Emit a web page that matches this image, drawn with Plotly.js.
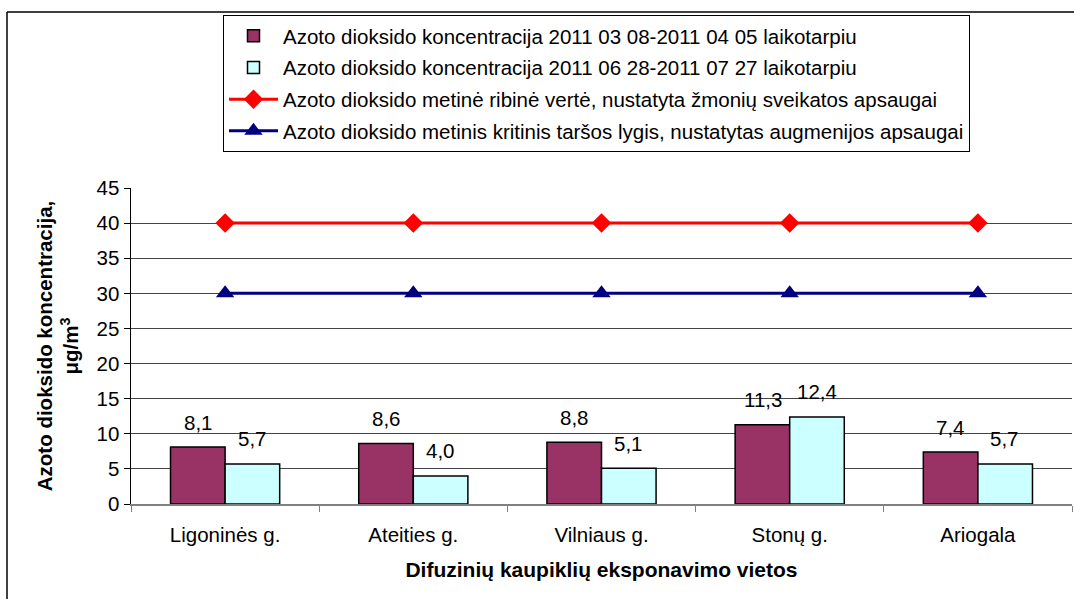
<!DOCTYPE html>
<html>
<head>
<meta charset="utf-8">
<script src="https://cdn.plot.ly/plotly-3.0.1.min.js"></script>
<style>html,body{margin:0;padding:0;background:#fff;}#chart{width:1074px;height:599px;}</style>
</head>
<body>
<div id="chart"></div>
<script>
const categories = ["Ligoninės g.", "Ateities g.", "Vilniaus g.", "Stonų g.", "Ariogala"];
const period1 = [8.1, 8.6, 8.8, 11.3, 7.4];
const period2 = [5.7, 4.0, 5.1, 12.4, 5.7];
const limitHealth = [40, 40, 40, 40, 40];
const limitVegetation = [30, 30, 30, 30, 30];
const seriesNames = [
  "Azoto dioksido koncentracija 2011 03 08-2011 04 05 laikotarpiu",
  "Azoto dioksido koncentracija 2011 06 28-2011 07 27 laikotarpiu",
  "Azoto dioksido metinė ribinė vertė, nustatyta žmonių sveikatos apsaugai",
  "Azoto dioksido metinis kritinis taršos lygis, nustatytas augmenijos apsaugai"
];
const yTickVals = [0, 5, 10, 15, 20, 25, 30, 35, 40, 45];

const FONT = "Liberation Sans, Arial, sans-serif";
const FS = 20.5;
const FT = 21;
const W = 1074, H = 599;
const M = {l: 131, r: 2, t: 188, b: 95};
const PW = W - M.l - M.r, PH = H - M.t - M.b;

const traces = [
  {type: "bar", x: categories, y: period1, name: seriesNames[0], legendgroup: "a",
   marker: {color: "#993366", line: {color: "#000", width: 1.5}}, hoverinfo: "y"},
  {type: "bar", x: categories, y: period2, name: seriesNames[1], legendgroup: "b",
   marker: {color: "#CCFFFF", line: {color: "#000", width: 1.5}}, hoverinfo: "y"},
  {type: "scatter", mode: "lines+markers", x: categories, y: limitHealth, name: seriesNames[2], legendgroup: "c",
   line: {color: "#FF0000", width: 3}, marker: {symbol: "diamond", size: 15, color: "#FF0000"}},
  {type: "scatter", mode: "lines+markers", x: categories, y: limitVegetation, name: seriesNames[3], legendgroup: "d",
   line: {color: "#000080", width: 3}, marker: {symbol: "triangle-up", size: 16, color: "#000080"}}
];

const fmt = v => v.toFixed(1).replace(".", ",");
const annotations = [];
[period1, period2].forEach((arr, s) => {
  arr.forEach((v, i) => {
    annotations.push({
      x: categories[i], y: v, xref: "x", yref: "y", text: fmt(v), showarrow: false,
      xshift: s === 0 ? -27 : 27, yshift: 25, yanchor: "middle",
      font: {family: FONT, size: FS, color: "#000"}
    });
  });
});

const layout = {
  width: W, height: H,
  margin: M,
  paper_bgcolor: "#fff", plot_bgcolor: "#fff",
  font: {family: FONT, size: FS, color: "#000"},
  barmode: "group", bargap: 0.42, bargroupgap: 0,
  showlegend: true,
  legend: {
    x: (223 - M.l) / PW, y: (H - M.b - 15) / PH, xanchor: "left", yanchor: "top",
    bordercolor: "#000", borderwidth: 1, bgcolor: "#fff",
    font: {family: FONT, size: FS, color: "#000"},
    traceorder: "grouped", tracegroupgap: 2, itemwidth: 49
  },
  xaxis: {
    type: "category", showgrid: false, showline: true, linecolor: "#808080", linewidth: 1.5,
    ticks: "outside", tickson: "boundaries", ticklen: 6, tickcolor: "#808080",
    ticklabelstandoff: 12,
    tickfont: {family: FONT, size: FS, color: "#000"},
    title: {text: "<b>Difuzinių kaupiklių eksponavimo vietos</b>", font: {family: FONT, size: FT}, standoff: 17},
    fixedrange: true
  },
  yaxis: {
    range: [0, 45], tickvals: yTickVals, ticktext: yTickVals.map(String),
    showgrid: true, gridcolor: "#444", gridwidth: 1,
    showline: true, linecolor: "#000", linewidth: 1.5,
    ticks: "outside", ticklen: 6, tickcolor: "#000",
    tickfont: {family: FONT, size: FS, color: "#000"},
    zeroline: false,
    title: {text: "<b>Azoto dioksido koncentracija,<br>μg/m<sup>3</sup></b>", font: {family: FONT, size: FS}, standoff: 12},
    fixedrange: true
  },
  annotations: annotations,
  shapes: [
    {type: "line", xref: "paper", yref: "paper", x0: (7 - M.l) / PW, x1: 1.01, y0: (H - M.b - 12) / PH, y1: (H - M.b - 12) / PH,
     line: {color: "#000", width: 1.5}},
    {type: "line", xref: "paper", yref: "paper", x0: (7 - M.l) / PW, x1: (7 - M.l) / PW, y0: -0.4, y1: (H - M.b - 12) / PH,
     line: {color: "#000", width: 1.5}}
  ]
};

Plotly.newPlot("chart", traces, layout, {displayModeBar: false, staticPlot: true});
</script>
</body>
</html>
